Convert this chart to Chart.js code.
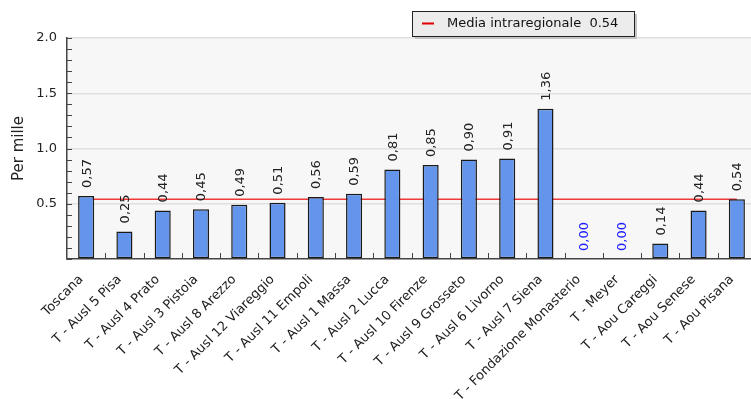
<!DOCTYPE html>
<html>
<head>
<meta charset="utf-8">
<script src="https://cdn.jsdelivr.net/npm/chart.js@4/dist/chart.umd.min.js"></script>
<style>
  html, body { margin: 0; padding: 0; background: #fff; }
  #wrap { width: 751px; height: 399px; overflow: hidden; }
</style>
</head>
<body>
<div id="wrap"><canvas id="chart" width="757" height="399"></canvas></div>
<script>
const categories = ['Toscana', 'T - Ausl 5 Pisa', 'T - Ausl 4 Prato', 'T - Ausl 3 Pistoia', 'T - Ausl 8 Arezzo',
    'T - Ausl 12 Viareggio', 'T - Ausl 11 Empoli', 'T - Ausl 1 Massa', 'T - Ausl 2 Lucca', 'T - Ausl 10 Firenze',
    'T - Ausl 9 Grosseto', 'T - Ausl 6 Livorno', 'T - Ausl 7 Siena', 'T - Fondazione Monasterio', 'T - Meyer',
    'T - Aou Careggi', 'T - Aou Senese', 'T - Aou Pisana'];
const values = [0.57, 0.25, 0.44, 0.45, 0.49, 0.51, 0.56, 0.59, 0.81, 0.85, 0.90, 0.91, 1.36, 0.00, 0.00, 0.14, 0.44, 0.54];
const mediaValue = 0.54;
const mediaLabel = 'Media intraregionale  0.54';
const yTickLabels = ['0.5', '1.0', '1.5', '2.0'];

const isMajor = v => Math.abs(v * 2 - Math.round(v * 2)) < 1e-6;

// plot background, inner ticks, value labels and legend box
const extras = {
    id: 'extras',
    beforeDraw(c) {
        const a = c.chartArea, ctx = c.ctx;
        ctx.save();
        ctx.fillStyle = '#f7f7f7';
        ctx.fillRect(a.left, a.top, a.right - a.left, a.bottom - a.top);
        ctx.restore();
    },
    afterDatasetsDraw(c) {
        const ctx = c.ctx, a = c.chartArea;
        const y = c.scales.y, x = c.scales.x;
        ctx.save();
        ctx.strokeStyle = '#444';
        ctx.lineWidth = 1;
        // minor ticks on the y axis, pointing inside
        y.ticks.forEach(t => {
            const py = Math.round(y.getPixelForValue(t.value)) + 0.5;
            ctx.beginPath();
            ctx.moveTo(a.left, py);
            ctx.lineTo(a.left + 5, py);
            ctx.stroke();
        });
        // ticks between categories on the x axis
        for (let i = 0; i < categories.length - 1; i++) {
            const px = Math.round((x.getPixelForValue(i) + x.getPixelForValue(i + 1)) / 2) + 0.5;
            ctx.beginPath();
            ctx.moveTo(px, a.bottom);
            ctx.lineTo(px, a.bottom - 6);
            ctx.stroke();
        }
        // value labels
        const meta = c.getDatasetMeta(1);
        ctx.font = '13px "DejaVu Sans"';
        ctx.textAlign = 'left';
        ctx.textBaseline = 'middle';
        meta.data.forEach((bar, i) => {
            const v = values[i];
            ctx.save();
            ctx.translate(bar.x + 1, bar.y - 8);
            ctx.rotate(-Math.PI / 2);
            ctx.fillStyle = v === 0 ? '#2222ff' : '#222';
            ctx.fillText(v.toFixed(2).replace('.', ','), 0, 0);
            ctx.restore();
        });
        ctx.restore();
    },
    afterDraw(c) {
        const ctx = c.ctx;
        const bx = 412, by = 11, bw = 222, bh = 25;
        ctx.save();
        ctx.fillStyle = '#c4c4c4';
        ctx.fillRect(bx + 3, by + 3, bw, bh);
        ctx.fillStyle = '#ececec';
        ctx.fillRect(bx, by, bw, bh);
        ctx.strokeStyle = '#222';
        ctx.lineWidth = 1;
        ctx.strokeRect(bx + 0.5, by + 0.5, bw, bh);
        ctx.strokeStyle = '#e00000';
        ctx.lineWidth = 2;
        ctx.beginPath();
        ctx.moveTo(422, by + 12.5);
        ctx.lineTo(434, by + 12.5);
        ctx.stroke();
        ctx.fillStyle = '#111';
        ctx.font = '13px "DejaVu Sans"';
        ctx.textBaseline = 'middle';
        ctx.fillText(mediaLabel, 447, by + 13);
        ctx.restore();
    }
};

new Chart(document.querySelector('#chart'), {
    data: {
        labels: categories,
        datasets: [
            {
                type: 'line',
                label: mediaLabel,
                data: categories.map(() => mediaValue),
                borderColor: '#f03a3a',
                borderWidth: 1.5,
                pointRadius: 0,
                order: 2
            },
            {
                type: 'bar',
                label: 'Per mille',
                data: values,
                backgroundColor: '#6495ed',
                borderColor: '#1a1a1a',
                borderWidth: 1.5,
                borderSkipped: false,
                barPercentage: 0.42,
                categoryPercentage: 1,
                order: 1
            }
        ]
    },
    options: {
        responsive: false,
        animation: false,
        layout: { padding: { top: 38, right: 1, left: 0, bottom: 0 } },
        plugins: {
            legend: { display: false },
            tooltip: { enabled: false }
        },
        scales: {
            x: {
                grid: { display: false },
                border: { display: true, color: '#444', width: 1.5 },
                ticks: {
                    color: '#222',
                    font: { family: 'DejaVu Sans', size: 13 },
                    maxRotation: 45,
                    minRotation: 45,
                    autoSkip: false,
                    padding: 5,
                    labelOffset: -5
                },
                afterFit(s) { s.height = 140; s.paddingLeft = 0; s.paddingRight = 0; }
            },
            y: {
                min: 0,
                max: 2,
                ticks: {
                    stepSize: 0.1,
                    autoSkip: false,
                    color: '#222',
                    font: { family: 'DejaVu Sans', size: 13 },
                    padding: 10,
                    callback: v => (v > 0 && isMajor(v)) ? yTickLabels[Math.round(v * 2) - 1] : ''
                },
                grid: {
                    drawTicks: false,
                    color: ctx => (ctx.tick && ctx.tick.value > 0 && isMajor(ctx.tick.value)) ? '#e0e0e0' : 'transparent',
                    lineWidth: 1.5
                },
                border: { display: true, color: '#444', width: 1.5 },
                title: {
                    display: true,
                    text: 'Per mille',
                    color: '#222',
                    font: { family: 'DejaVu Sans', size: 15 },
                    padding: { top: 10, bottom: 0 }
                },
                afterFit(s) { s.width = 67; }
            }
        }
    },
    plugins: [extras]
});
</script>
</body>
</html>
